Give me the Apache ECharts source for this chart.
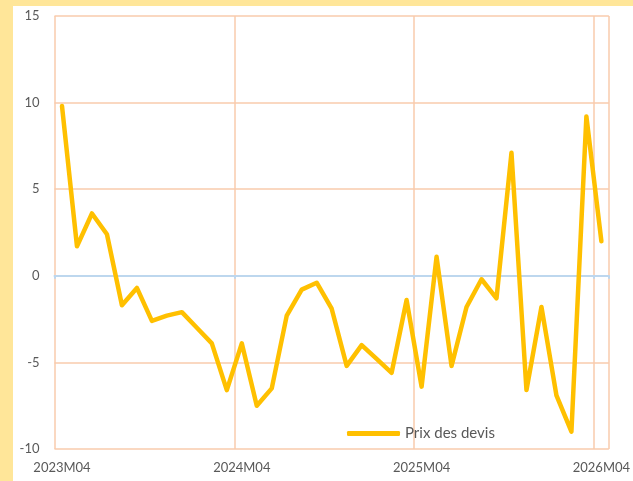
<!DOCTYPE html>
<html>
<head>
<meta charset="utf-8">
<script src="https://cdn.jsdelivr.net/npm/echarts@6/dist/echarts.min.js"></script>
<style>
  html, body { margin: 0; padding: 0; background: #FFE699; width: 633px; height: 481px; overflow: hidden; }
  #chart { position: absolute; left: 13px; top: 6px; width: 620px; height: 475px; background: #ffffff; }
</style>
</head>
<body>
<div id="chart"></div>
<script>
// Monthly periods, 2023M04 .. 2026M04
const months = [
  '2023M04','2023M05','2023M06','2023M07','2023M08','2023M09','2023M10','2023M11','2023M12',
  '2024M01','2024M02','2024M03','2024M04','2024M05','2024M06','2024M07','2024M08','2024M09',
  '2024M10','2024M11','2024M12','2025M01','2025M02','2025M03','2025M04','2025M05','2025M06',
  '2025M07','2025M08','2025M09','2025M10','2025M11','2025M12','2026M01','2026M02','2026M03',
  '2026M04'
];

// Prix des devis (%)
const prixDevis = [
  9.8, 1.7, 3.6, 2.4, -1.7, -0.7, -2.6, -2.3, -2.1, -3.0, -3.9, -6.6, -3.9,
  -7.5, -6.5, -2.3, -0.8, -0.4, -1.9, -5.2, -4.0, -4.8, -5.6, -1.4, -6.4,
  1.1, -5.2, -1.8, -0.2, -1.3, 7.1, -6.6, -1.8, -6.9, -9.0, 9.2, 2.0
];

const yTicks = { min: -10, max: 15, step: 5 };

const textColor = '#595959';
const gridColor = '#F8CBAD';
const zeroColor = '#BDD7EE';
const lineColor = '#FFC000';
const fontFamily = 'Lato, "Open Sans", sans-serif';

const chart = echarts.init(document.getElementById('chart'));
chart.setOption({
  animation: false,
  grid: { left: 41.5, right: 21.5, top: 10, bottom: 32, containLabel: false },
  legend: {
    left: 329, top: 415,
    icon: 'roundRect',
    itemWidth: 53, itemHeight: 5, itemGap: 4,
    textStyle: { color: textColor, fontSize: 15, fontFamily: fontFamily },
    data: [{ name: 'Prix des devis', itemStyle: { color: lineColor } }]
  },
  xAxis: [
    {
      type: 'category',
      data: months,
      boundaryGap: true,
      position: 'bottom',
      axisLine: { show: false, onZero: false },
      axisTick: { show: false },
      axisLabel: {
        interval: (i) => i % 12 === 0,
        color: textColor, fontSize: 13, fontFamily: fontFamily, margin: 12
      },
      splitLine: {
        show: true,
        interval: (i) => i % 12 === 0,
        lineStyle: { color: gridColor, width: 1.5 }
      }
    },
    {
      type: 'category',
      data: months,
      boundaryGap: true,
      position: 'top',
      axisLine: { show: true, onZero: true, lineStyle: { color: zeroColor, width: 2 } },
      axisTick: { show: true, interval: (i) => i % 12 === 0, length: 3, inside: true, lineStyle: { color: zeroColor, width: 2 } },
      axisLabel: { show: false },
      splitLine: { show: false }
    }
  ],
  yAxis: {
    type: 'value',
    min: yTicks.min, max: yTicks.max, interval: yTicks.step,
    axisLine: { show: false },
    axisTick: { show: false },
    axisLabel: { color: textColor, fontSize: 13, fontFamily: fontFamily, margin: 15 },
    splitLine: {
      show: true,
      lineStyle: { color: [gridColor, gridColor, zeroColor, gridColor, gridColor, gridColor], width: 1.5 }
    }
  },
  series: [
    {
      name: 'Prix des devis',
      type: 'line',
      data: prixDevis,
      xAxisIndex: 0,
      symbol: 'none',
      lineStyle: { color: lineColor, width: 4.5, join: 'round', cap: 'round' },
      itemStyle: { color: lineColor }
    }
  ]
});
</script>
</body>
</html>
